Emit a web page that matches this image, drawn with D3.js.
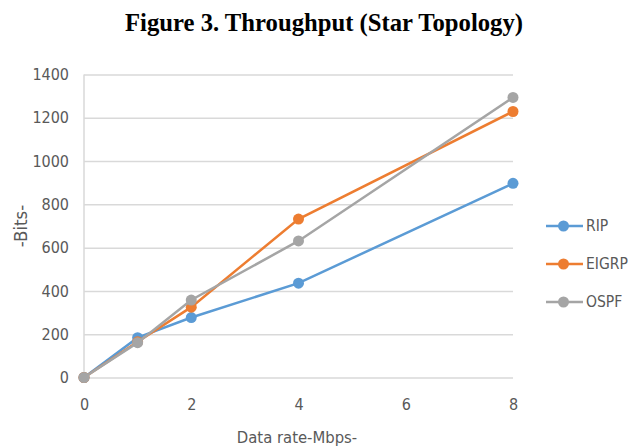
<!DOCTYPE html>
<html lang="en">
<head>
<meta charset="UTF-8">
<title>throughput-star</title>
<script src="https://cdn.jsdelivr.net/npm/d3@7/dist/d3.min.js"></script>
<style>
  body { margin: 0; background: #fff; }
  .tick text { font-family: "DejaVu Sans Condensed", "Liberation Sans Narrow", sans-serif; }
</style>
</head>
<body>
<script>
// data
const rates = [0, 1, 2, 4, 8];
const ripBits = [0, 184, 277, 436, 897];
const eigrpBits = [0, 165, 325, 732, 1229];
const ospfBits = [0, 161, 358, 631, 1294];
const seriesNames = ['RIP', 'EIGRP', 'OSPF'];
const seriesColors = ['#5B9BD5', '#ED7D31', '#A5A5A5'];
const xTicks = [0, 2, 4, 6, 8];
const yTicks = [0, 200, 400, 600, 800, 1000, 1200, 1400];

const width = 638, height = 448;
const margins = {top: 74.5, left: 84, right: 125, bottom: 70.5};
const font = '"DejaVu Sans Condensed", "Liberation Sans Narrow", sans-serif';
const textColor = '#595959';

const svg = d3.select('body').append('svg')
  .attr('width', width)
  .attr('height', height);

const x = d3.scaleLinear().domain([0, 8]).range([margins.left, width - margins.right]);
const y = d3.scaleLinear().domain([0, 1400]).range([height - margins.bottom, margins.top]);

// title
svg.append('text')
  .attr('x', 125)
  .attr('y', 31)
  .attr('textLength', 398)
  .attr('lengthAdjust', 'spacingAndGlyphs')
  .attr('font-family', '"Liberation Serif", "Times New Roman", serif')
  .attr('font-weight', 'bold')
  .attr('font-size', 25)
  .attr('fill', '#000')
  .text('Figure 3. Throughput (Star Topology)');

// horizontal gridlines
const yAxis = d3.axisLeft(y)
  .tickValues(yTicks)
  .tickSize(-(x(8) - x(0)))
  .tickPadding(15)
  .tickFormat(d3.format('d'));
const yG = svg.append('g')
  .attr('transform', 'translate(' + x(0) + ',0)')
  .call(yAxis);
yG.select('.domain').remove();
yG.selectAll('.tick line').attr('stroke', '#D9D9D9').attr('stroke-width', 1.5);
yG.selectAll('.tick text').attr('font-size', 16).attr('fill', textColor);

// vertical axis line at x = 0
svg.append('line')
  .attr('x1', x(0)).attr('x2', x(0))
  .attr('y1', y(1400)).attr('y2', y(0))
  .attr('stroke', '#D9D9D9')
  .attr('stroke-width', 1.5);

const xAxis = d3.axisBottom(x)
  .tickValues(xTicks)
  .tickSize(0)
  .tickPadding(21);
const xG = svg.append('g')
  .attr('transform', 'translate(0,' + y(0) + ')')
  .call(xAxis);
xG.select('.domain').remove();
xG.selectAll('.tick text').attr('font-size', 16).attr('fill', textColor);

// axis titles
svg.append('text')
  .attr('x', 297)
  .attr('y', 443)
  .attr('text-anchor', 'middle')
  .attr('font-family', font)
  .attr('font-size', 16.5)
  .attr('fill', textColor)
  .text('Data rate-Mbps-');

svg.append('text')
  .attr('transform', 'translate(27,226) rotate(-90)')
  .attr('text-anchor', 'middle')
  .attr('font-family', font)
  .attr('font-size', 18.5)
  .attr('fill', textColor)
  .text('-Bits-');

// series
const series = [ripBits, eigrpBits, ospfBits].map(function (vals, i) {
  return {
    name: seriesNames[i],
    color: seriesColors[i],
    points: rates.map(function (r, j) { return {x: r, y: vals[j]}; })
  };
});

const line = d3.line()
  .x(function (d) { return x(d.x); })
  .y(function (d) { return y(d.y); });

series.forEach(function (s) {
  const g = svg.append('g');
  g.append('path')
    .datum(s.points)
    .attr('d', line)
    .attr('fill', 'none')
    .attr('stroke', s.color)
    .attr('stroke-width', 2.5);
  g.selectAll('circle')
    .data(s.points)
    .enter()
    .append('circle')
    .attr('cx', function (d) { return x(d.x); })
    .attr('cy', function (d) { return y(d.y); })
    .attr('r', 5.5)
    .attr('fill', s.color);
});

// legend
const legend = svg.append('g')
  .selectAll('g')
  .data(series)
  .enter()
  .append('g')
  .attr('transform', function (d, i) { return 'translate(546,' + (226 + i * 38) + ')'; });
legend.append('line')
  .attr('x1', 0).attr('x2', 37)
  .attr('stroke', function (d) { return d.color; })
  .attr('stroke-width', 2.5);
legend.append('circle')
  .attr('cx', 17.5)
  .attr('r', 5.5)
  .attr('fill', function (d) { return d.color; });
legend.append('text')
  .attr('x', 40)
  .attr('dy', '0.35em')
  .attr('font-family', font)
  .attr('font-size', 15.5)
  .attr('fill', textColor)
  .text(function (d) { return d.name; });
</script>
</body>
</html>
